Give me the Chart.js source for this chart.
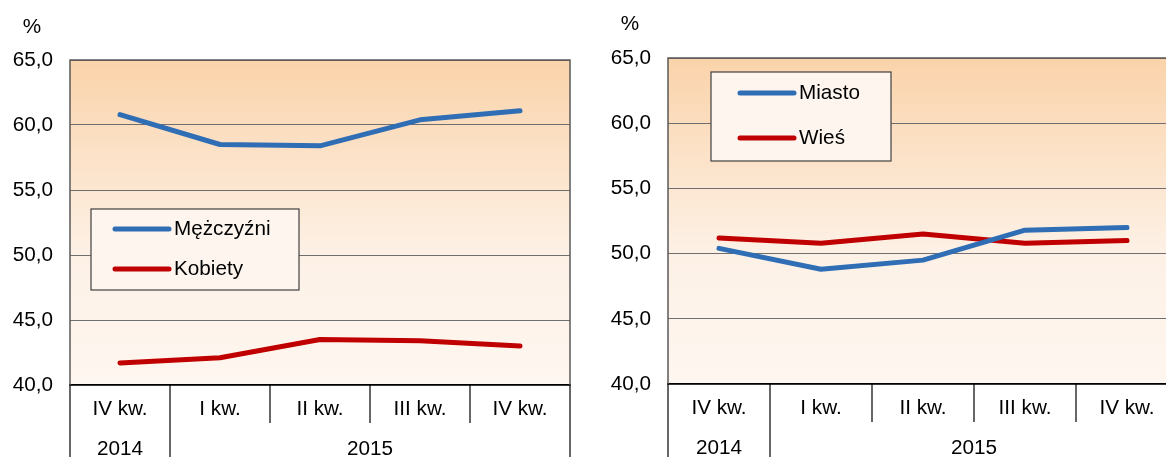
<!DOCTYPE html>
<html>
<head>
<meta charset="utf-8">
<script src="https://cdn.jsdelivr.net/npm/chart.js@4.4.1/dist/chart.umd.min.js"></script>
<style>
  body { margin: 0; background: #fff; }
  #wrap { position: relative; width: 1166px; height: 457px; overflow: hidden; background: #fff; }
  .box { position: absolute; top: 0; width: 600px; height: 457px; }
</style>
</head>
<body>
<div id="wrap">
  <div class="box" style="left:0"><canvas id="genderChart"></canvas></div>
  <div class="box" style="left:600px"><canvas id="placeChart"></canvas></div>
</div>
<script>
// quarters and years on the category axis
const quarters = ["IV kw.", "I kw.", "II kw.", "III kw.", "IV kw."];
const yearLabels = ["2014", "2015"];
const yearSpans = [1, 4];

// values in %
const menValues = [60.8, 58.5, 58.4, 60.4, 61.1];
const womenValues = [41.7, 42.1, 43.5, 43.4, 43.0];
const cityValues = [50.4, 48.8, 49.5, 51.8, 52.0];
const villageValues = [51.2, 50.8, 51.5, 50.8, 51.0];

const yMin = 40;
const yMax = 65;
const yStep = 5;

const FONT = "'Liberation Sans', Arial, sans-serif";
const FONT_SIZE = 20.7;
const BLUE = "#2f6db5";
const RED = "#c00000";

// background, axis table, legend box and unit label
const decorPlugin = {
  id: "decor",
  beforeDraw(chart) {
    const a = chart.chartArea;
    const ctx = chart.ctx;
    const g = ctx.createLinearGradient(0, a.top, 0, a.bottom);
    g.addColorStop(0, "#fad3aa");
    g.addColorStop(0.6, "#fdf1e6");
    g.addColorStop(1, "#fef6f0");
    ctx.save();
    ctx.fillStyle = g;
    ctx.fillRect(a.left, a.top, a.right - a.left, a.bottom - a.top);
    ctx.restore();
  },
  afterDraw(chart, args, opts) {
    const a = chart.chartArea;
    const ctx = chart.ctx;
    const n = quarters.length;
    const w = (a.right - a.left) / n;
    const bottom = chart.height;

    ctx.save();
    // plot border
    ctx.strokeStyle = "#595959";
    ctx.lineWidth = 1.5;
    ctx.beginPath();
    ctx.moveTo(a.left, a.bottom);
    ctx.lineTo(a.left, a.top);
    ctx.lineTo(a.right, a.top);
    ctx.lineTo(a.right, a.bottom);
    ctx.stroke();

    // separators under the axis
    const yearEdges = [0];
    yearSpans.forEach((s) => yearEdges.push(yearEdges[yearEdges.length - 1] + s));
    ctx.strokeStyle = "#000";
    ctx.lineWidth = 1.2;
    for (let i = 0; i <= n; i++) {
      const x = a.left + i * w;
      const long = yearEdges.includes(i);
      ctx.beginPath();
      ctx.moveTo(x, a.bottom);
      ctx.lineTo(x, long ? bottom : a.bottom + 38);
      ctx.stroke();
    }

    // year row
    ctx.fillStyle = "#000";
    ctx.font = FONT_SIZE + "px " + FONT;
    ctx.textAlign = "center";
    ctx.textBaseline = "middle";
    yearLabels.forEach((lbl, i) => {
      const x0 = a.left + yearEdges[i] * w;
      const x1 = a.left + yearEdges[i + 1] * w;
      ctx.fillText(lbl, (x0 + x1) / 2, a.bottom + 64);
    });

    // unit label
    ctx.fillText("%", opts.unitX, opts.unitY);

    // legend box
    const b = opts.legend;
    ctx.fillStyle = "#fdf5ee";
    ctx.fillRect(b.left, b.top, b.width, b.height);
    ctx.strokeStyle = "#404040";
    ctx.lineWidth = 1.2;
    ctx.strokeRect(b.left, b.top, b.width, b.height);
    ctx.textAlign = "left";
    chart.data.datasets.forEach((ds, i) => {
      const y = b.top + b.rows[i];
      ctx.strokeStyle = ds.borderColor;
      ctx.lineWidth = 5;
      ctx.lineCap = "round";
      ctx.beginPath();
      ctx.moveTo(b.left + b.sample, y);
      ctx.lineTo(b.left + b.sample + 54, y);
      ctx.stroke();
      ctx.fillStyle = "#000";
      ctx.fillText(ds.label, b.left + b.sample + 59, y);
    });
    ctx.restore();
  },
};

function lineSet(label, values, color) {
  return {
    label: label,
    data: values,
    borderColor: color,
    backgroundColor: color,
    borderWidth: 5,
    borderCapStyle: "round",
    borderJoinStyle: "round",
    pointRadius: 0,
    tension: 0,
  };
}

function makeChart(canvasId, datasets, cfg) {
  return new Chart(document.getElementById(canvasId), {
    type: "line",
    data: { labels: quarters, datasets: datasets },
    options: {
      responsive: true,
      maintainAspectRatio: false,
      animation: false,
      layout: { padding: { top: cfg.top, right: cfg.right, left: 0, bottom: 0 } },
      plugins: {
        legend: { display: false },
        tooltip: { enabled: false },
        decor: { unitX: cfg.unitX, unitY: cfg.unitY, legend: cfg.legend },
      },
      scales: {
        x: {
          offset: true,
          grid: { display: false, drawTicks: false },
          border: { color: "#000", width: 1.5 },
          ticks: {
            color: "#000",
            font: { family: FONT, size: FONT_SIZE },
            padding: 12,
            maxRotation: 0,
            autoSkip: false,
          },
          afterFit: (s) => { s.height = 457 - cfg.bottom; },
        },
        y: {
          min: yMin,
          max: yMax,
          grid: { color: "#6f6f6f", lineWidth: 1, drawTicks: false },
          border: { display: false },
          ticks: {
            stepSize: yStep,
            color: "#000",
            font: { family: FONT, size: FONT_SIZE },
            padding: 17,
            callback: (v) => v.toFixed(1).replace(".", ","),
          },
          afterFit: (s) => { s.width = cfg.left; },
        },
      },
    },
    plugins: [decorPlugin],
  });
}

makeChart("genderChart", [
  lineSet("Mężczyźni", menValues, BLUE),
  lineSet("Kobiety", womenValues, RED),
], {
  left: 70, right: 30, top: 60, bottom: 385,
  unitX: 32, unitY: 27,
  legend: { left: 91, top: 209, width: 208, height: 81, sample: 24, rows: [20, 60] },
});

makeChart("placeChart", [
  lineSet("Miasto", cityValues, BLUE),
  lineSet("Wieś", villageValues, RED),
], {
  left: 68, right: 22, top: 58, bottom: 384,
  unitX: 30, unitY: 24,
  legend: { left: 111, top: 72, width: 180, height: 89, sample: 29, rows: [21, 66] },
});
</script>
</body>
</html>
